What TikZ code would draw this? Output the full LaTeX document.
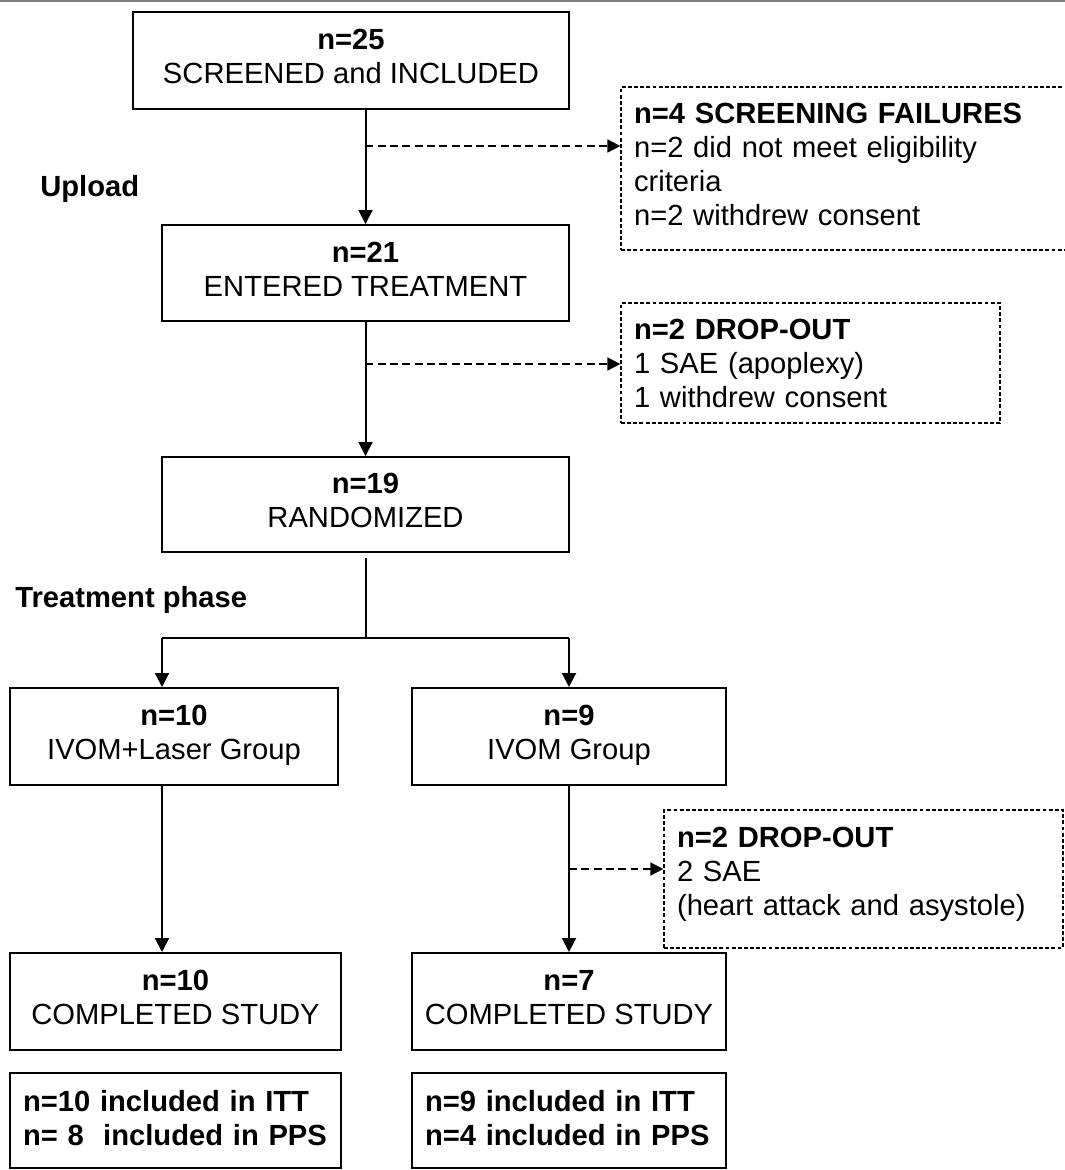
\documentclass[tikz,border=0pt]{standalone}
\usepackage{fontspec}
\setmainfont{Liberation Sans}
\usepackage{tikz}
\usetikzlibrary{arrows.meta, positioning, calc}

\newcommand{\boxfont}{\fontsize{16.6}{19.35}\selectfont}

\tikzset{
  box/.style={draw, line width=0.04cm, rectangle, align=center, inner sep=0pt, text depth=0.15cm},
  dropbox/.style={draw, line width=0.025cm, dash pattern=on 2.2pt off 1.3pt, rectangle, align=left, inner xsep=0.26cm, inner ysep=0pt},
  listbox/.style={draw, line width=0.04cm, rectangle, align=left, inner xsep=0.26cm, inner ysep=0pt, text depth=0.80cm},
  flow/.style={line width=0.04cm, -{Triangle[length=0.28cm,width=0.28cm]}},
  dropflow/.style={line width=0.03cm, dash pattern=on 4.5pt off 2.5pt, -{Triangle[length=0.26cm,width=0.26cm]}},
  phase/.style={anchor=west, inner sep=0pt, font=\boxfont\bfseries}
}

\begin{document}
\begin{tikzpicture}[x=0.02cm, y=-0.02cm, font=\boxfont] % 1 px = 0.02cm

            \clip (0,0) rectangle (1065,1170); % Khung hình
            \draw[gray, line width=0.04cm] (0,1) -- (1065,1); % Đường trên cùng

            % Các ô chính
            \node[box, minimum width=8.72cm, minimum height=1.94cm] (screened) at (351,60.5) {\textbf{n=25}\\SCREENED and INCLUDED};
            \node[box, minimum width=8.14cm, minimum height=1.92cm] (entered) at (365.5,273) {\textbf{n=21}\\ENTERED TREATMENT};
            \node[box, minimum width=8.14cm, minimum height=1.90cm] (random) at (365.5,504.5) {\textbf{n=19}\\RANDOMIZED};
            \node[box, minimum width=6.56cm, minimum height=1.94cm] (laser) at (174,736.5) {\textbf{n=10}\\IVOM+Laser Group};
            \node[box, minimum width=6.28cm, minimum height=1.94cm] (ivom) at (569,736.5) {\textbf{n=9}\\IVOM Group};
            \node[box, minimum width=6.62cm, minimum height=1.94cm] (laserdone) at (175.5,1001.5) {\textbf{n=10}\\COMPLETED STUDY};
            \node[box, minimum width=6.28cm, minimum height=1.94cm] (ivomdone) at (569,1001.5) {\textbf{n=7}\\COMPLETED STUDY};

            % Ô ITT / PPS
            \node[listbox, text width=6.10cm, minimum height=1.90cm] (laserset) at (175.5,1120.5) {\textbf{n=10 included in ITT}\\\textbf{n=\ 8\ \ included in PPS}};
            \node[listbox, text width=5.76cm, minimum height=1.90cm] (ivomset) at (569,1120.5) {\textbf{n=9 included in ITT}\\\textbf{n=4 included in PPS}};

            % Các ô nét đứt
            \node[dropbox, text width=8.66cm, minimum height=3.26cm, text depth=2.20cm] (fail) at (850.5,168.5) {\textbf{n=4 SCREENING FAILURES}\\n=2 did not meet eligibility\\criteria\\n=2 withdrew consent};
            \node[dropbox, text width=7.06cm, minimum height=2.40cm] (drop1) at (810.5,363) {\textbf{n=2 DROP-OUT}\\1 SAE (apoplexy)\\1 withdrew consent};
            \node[dropbox, text width=7.46cm, minimum height=2.76cm, text depth=1.65cm] (drop2) at (863.5,879) {\textbf{n=2 DROP-OUT}\\2 SAE\\(heart attack and asystole)};

            % Nhãn giai đoạn
            \node[phase] (upload) at (40,189) {Upload};
            \node[phase] (treat) at (15,600) {Treatment phase};

            % Mũi tên chính
            \draw[flow] (screened.south -| entered) -- (entered.north);
            \draw[flow] (entered.south) -- (random.north);
            \coordinate (j1) at (365.5,146);
            \coordinate (j2) at (365.5,364);
            \draw[dropflow] (j1) -- (j1 -| fail.west);
            \draw[dropflow] (j2) -- (j2 -| drop1.west);

            % Chia nhóm
            \coordinate (top) at (365.5,558);
            \coordinate (splitL) at (162,638);
            \coordinate (splitR) at (569,638);
            \draw[line width=0.04cm] (top) -- (top |- splitL);
            \draw[line width=0.04cm] (splitL) -- (splitR);
            \draw[flow] (splitL) -- (splitL |- laser.north);
            \draw[flow] (splitR) -- (ivom.north);

            % Hai nhánh
            \draw[flow] (laser.south -| splitL) -- (laserdone.north -| splitL);
            \draw[flow] (ivom.south) -- (ivomdone.north);
            \coordinate (j3) at (569,869);
            \draw[dropflow] (j3) -- (j3 -| drop2.west);

\end{tikzpicture}
\end{document}
